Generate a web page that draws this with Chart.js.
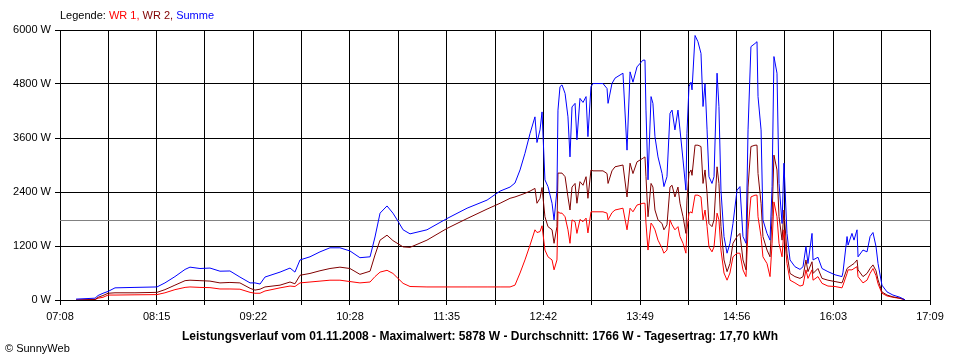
<!DOCTYPE html>
<html>
<head>
<meta charset="utf-8">
<title>Leistungsverlauf 01.11.2008</title>
<script src="https://cdn.jsdelivr.net/npm/chart.js@4/dist/chart.umd.min.js"></script>
<style>
  body { margin: 0; background: #fff; }
  canvas { display: block; }
</style>
</head>
<body>
<canvas id="chart" width="960" height="360"></canvas>
<script>
// Zeit in Minuten seit Mitternacht, Leistung in W
const zeitMin = [
  439.1, 452.2, 454.3, 457.7, 461.2, 466.0, 479.8, 495.0, 500.5, 507.4,
  514.4, 517.8, 524.7, 531.6, 538.5, 545.4, 552.3, 559.3, 562.7, 566.2,
  569.6, 580.0, 586.9, 590.3, 593.8, 600.7, 607.6, 614.5, 621.4, 628.3,
  635.2, 642.2, 645.6, 649.1, 653.9, 658.0, 661.5, 665.0, 669.8, 681.5,
  695.3, 709.2, 723.0, 732.0, 738.9, 742.3, 745.8, 749.2, 752.7, 756.1,
  757.5, 759.6, 761.0, 763.0, 765.1, 767.9, 769.3, 771.3, 772.0, 773.4,
  774.8, 776.9, 778.9, 780.3, 781.7, 783.8, 785.1, 787.2, 789.3, 791.4,
  792.7, 794.8, 796.2, 803.1, 805.9, 806.6, 809.3, 811.4, 816.9, 819.7,
  821.8, 823.8, 826.6, 830.7, 832.1, 832.8, 834.2, 836.3, 837.6, 839.0,
  841.1, 843.9, 845.2, 847.3, 849.4, 850.8, 852.8, 854.9, 856.3, 858.4,
  860.4, 861.1, 862.5, 863.9, 864.6, 866.7, 868.7, 870.8, 872.2, 873.6,
  875.0, 876.3, 878.4, 879.8, 881.9, 883.2, 884.6, 886.7, 888.8, 890.8,
  892.9, 895.7, 897.7, 899.8, 901.9, 903.3, 905.3, 908.1, 909.5, 910.2,
  912.3, 913.6, 916.4, 918.5, 919.9, 921.2, 923.3, 924.7, 926.8, 928.1,
  930.2, 932.3, 935.7, 939.2, 941.3, 943.3, 944.7, 947.5, 948.2, 951.6,
  954.4, 958.5, 963.4, 968.2, 968.9, 971.7, 972.4, 975.1, 976.5, 978.6,
  979.3, 982.7, 985.5, 987.6, 989.6, 991.7, 993.1, 995.8, 999.3, 1003.4,
  1008.3, 1011.7
]

const wr1 = [
  0, 10, 40, 60, 110, 110, 115, 120, 160, 230,
  280, 290, 280, 275, 245, 245, 240, 170, 150, 150,
  200, 270, 310, 300, 380, 400, 420, 440, 440, 410,
  380, 400, 520, 620, 660, 590, 480, 370, 300, 290,
  290, 290, 290, 290, 290, 330, 600, 890, 1220, 1560,
  1500, 1520, 1650, 1110, 960, 890, 670, 890, 1960, 1930,
  1930, 1850, 1560, 1260, 1780, 1740, 1480, 1790, 1740, 1820,
  1490, 1960, 1960, 1960, 1930, 1780, 1940, 2000, 2040, 1560,
  2040, 1960, 2110, 2150, 2150, 1710, 1110, 1710, 1650, 1560,
  1330, 1150, 1040, 1110, 1780, 1670, 1560, 1630, 1410, 1260,
  1040, 1560, 1930, 1960, 1930, 2330, 2330, 2290, 1780, 2000,
  1630, 1180, 1070, 1180, 1930, 1780, 1110, 600, 440, 600,
  960, 1040, 1040, 670, 520, 1560, 2290, 2330, 2330, 1850,
  1410, 960, 810, 520, 1260, 2180, 1850, 1260, 960, 1560,
  810, 440, 380, 310, 330, 670, 480, 670, 440, 520,
  370, 310, 300, 270, 330, 590, 670, 670, 700, 740,
  520, 380, 440, 590, 700, 540, 360, 150, 90, 60,
  35, 5
]

const wr2 = [
  0, 10, 60, 100, 150, 160, 160, 170, 230, 330,
  430, 440, 430, 420, 380, 390, 380, 260, 220, 240,
  290, 330, 400, 360, 550, 590, 650, 700, 730, 700,
  570, 640, 1000, 1330, 1440, 1320, 1250, 1180, 1170, 1330,
  1590, 1810, 2020, 2150, 2260, 2290, 2330, 2370, 2420, 2480,
  2150, 2260, 2500, 1850, 1630, 1560, 1260, 1630, 2820, 2820,
  2820, 2740, 2290, 2000, 2510, 2590, 2150, 2630, 2550, 2740,
  2260, 2890, 2870, 2870, 2810, 2590, 2870, 2960, 3000, 2290,
  3040, 2810, 3070, 3150, 3180, 2740, 1850, 2590, 2510, 2000,
  1780, 1700, 1560, 1670, 2510, 2550, 2290, 2510, 2150, 1850,
  1480, 2220, 2810, 2890, 2770, 3440, 3440, 3410, 2590, 2890,
  2370, 1700, 1630, 1780, 2960, 2590, 1630, 890, 630, 810,
  1260, 1410, 1480, 890, 670, 2510, 3410, 3440, 3440, 2810,
  2150, 1410, 1110, 960, 1850, 3220, 2890, 1850, 1330, 2000,
  1040, 590, 520, 480, 520, 890, 630, 850, 590, 700,
  480, 440, 410, 380, 440, 700, 720, 780, 810, 890,
  670, 520, 590, 700, 780, 650, 450, 180, 110, 70,
  40, 5
]

const summe = [
  20, 40, 100, 150, 190, 270, 280, 290, 380, 520,
  680, 730, 700, 710, 640, 645, 510, 380, 380, 355,
  510, 620, 710, 620, 890, 960, 1070, 1160, 1160, 1090,
  940, 960, 1400, 1930, 2090, 1930, 1750, 1560, 1470, 1560,
  1810, 2040, 2220, 2420, 2510, 2600, 2890, 3260, 3700, 4070,
  3500, 3780, 4180, 2670, 2520, 2150, 1780, 2440, 4220, 4740,
  4780, 4590, 4070, 3180, 4290, 4370, 3560, 4480, 4390, 4520,
  3630, 4740, 4810, 4810, 4700, 4370, 4810, 4930, 5040, 3330,
  5070, 4840, 5180, 5330, 5330, 4220, 2670, 4520, 4370, 3630,
  3180, 2810, 2520, 2740, 4150, 4220, 3780, 4220, 3780, 3110,
  2440, 3700, 4740, 4840, 4670, 5878, 5740, 5480, 4300, 4810,
  3780, 2740, 2590, 2740, 5040, 4300, 2440, 1410, 1040, 1260,
  1700, 2440, 2520, 1410, 1260, 3780, 5630, 5700, 5740, 4520,
  3780, 1780, 1480, 1330, 2520, 5410, 5040, 2590, 1700, 3040,
  1480, 890, 740, 680, 740, 1190, 810, 1480, 890, 950,
  700, 630, 560, 520, 620, 1410, 1220, 1480, 1330, 1560,
  960, 1110, 1070, 1410, 1500, 1190, 810, 330, 180, 110,
  60, 5
]

const durchschnitt = 1766
const xTickLabels = ['07:08', '08:15', '09:22', '10:28', '11:35', '12:42', '13:49', '14:56', '16:03', '17:09']
const yTicks = [0, 1200, 2400, 3600, 4800, 6000]

const xMin = 428   // 07:08
const xMax = 1029  // 17:09
const xSteps = 18

function series(values) {
  return values.map((v, i) => ({ x: zeitMin[i], y: v }))
}

// Texte ausserhalb des Diagrammbereichs (Legende, Titel, Copyright)
const textPlugin = {
  id: 'sunnyText',
  afterDraw(chart) {
    const ctx = chart.ctx
    ctx.save()
    ctx.textBaseline = 'middle'
    ctx.font = '11px "Liberation Sans", Arial, sans-serif'
    let x = 60
    const parts = [['Legende: ', '#000000'], ['WR 1, ', '#ff0000'], ['WR 2, ', '#800000'], ['Summe', '#0000ff']]
    parts.forEach(([t, c]) => {
      ctx.fillStyle = c
      ctx.fillText(t, x, 16)
      x += ctx.measureText(t).width
    })

    ctx.fillStyle = '#000'
    ctx.font = 'bold 12px "Liberation Sans", Arial, sans-serif'
    ctx.textAlign = 'center'
    ctx.fillText('Leistungsverlauf vom 01.11.2008 - Maximalwert: 5878 W - Durchschnitt: 1766 W - Tagesertrag: 17,70 kWh', 480, 337)

    ctx.textAlign = 'left'
    ctx.font = '11px "Liberation Sans", Arial, sans-serif'
    ctx.fillText('\u00a9 SunnyWeb', 5, 349)
    ctx.restore()
  }
}

new Chart(document.getElementById('chart'), {
  type: 'line',
  data: {
    datasets: [
      { label: 'Summe', data: series(summe), borderColor: '#0000ff', order: 1 },
      { label: 'WR 2', data: series(wr2), borderColor: '#800000', order: 2 },
      { label: 'WR 1', data: series(wr1), borderColor: '#ff0000', order: 3 },
      {
        label: 'Durchschnitt',
        data: [{ x: xMin, y: durchschnitt }, { x: xMax, y: durchschnitt }],
        borderColor: '#808080',
        order: 4
      }
    ]
  },
  options: {
    responsive: false,
    animation: false,
    events: [],
    layout: { padding: { top: 30, right: 30, left: 0, bottom: 0 } },
    elements: {
      point: { radius: 0 },
      line: { borderWidth: 1, tension: 0, fill: false }
    },
    plugins: {
      legend: { display: false },
      tooltip: { enabled: false },
      title: { display: false }
    },
    scales: {
      x: {
        type: 'linear',
        min: xMin,
        max: xMax,
        afterBuildTicks: scale => {
          const step = (xMax - xMin) / xSteps
          scale.ticks = Array.from({ length: xSteps + 1 }, (_, i) => ({ value: xMin + i * step }))
        },
        afterFit: scale => { scale.height = 60 },
        grid: { color: '#000', lineWidth: 1, tickLength: 5, drawTicks: true },
        border: { color: '#000', width: 1 },
        ticks: {
          autoSkip: false,
          maxRotation: 0,
          padding: 5,
          color: '#000',
          font: { family: '"Liberation Sans", Arial, sans-serif', size: 11 },
          callback: (v, i) => (i % 2 === 0 ? xTickLabels[i / 2] : '')
        }
      },
      y: {
        min: 0,
        max: 6000,
        afterBuildTicks: scale => { scale.ticks = yTicks.map(v => ({ value: v })) },
        afterFit: scale => { scale.width = 60 },
        grid: { color: '#000', lineWidth: 1, tickLength: 5, drawTicks: true },
        border: { color: '#000', width: 1 },
        ticks: {
          padding: 4,
          color: '#000',
          font: { family: '"Liberation Sans", Arial, sans-serif', size: 11 },
          callback: v => v + ' W'
        }
      }
    }
  },
  plugins: [textPlugin]
})
</script>
</body>
</html>
